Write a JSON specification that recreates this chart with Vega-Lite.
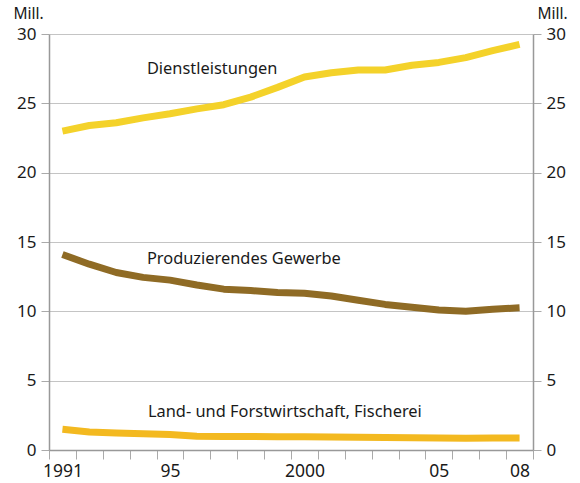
{
  "$schema": "https://vega.github.io/schema/vega-lite/v6.json",
  "width": 484,
  "height": 416,
  "autosize": "none",
  "padding": {"left": 49, "right": 47, "top": 34, "bottom": 33},
  "background": "white",
  "config": {
    "view": {"stroke": null},
    "font": "Noto Sans",
    "axis": {"labelFont": "Noto Sans", "titleFont": "Noto Sans", "labelColor": "#1a1a1a", "titleColor": "#1a1a1a", "labelOverlap": false, "labelSeparation": 0}
  },
  "datasets": {
    "lines": [
      {"series": "Dienstleistungen", "year": 1991, "value": 23.0},
      {"series": "Dienstleistungen", "year": 1992, "value": 23.4},
      {"series": "Dienstleistungen", "year": 1993, "value": 23.6},
      {"series": "Dienstleistungen", "year": 1994, "value": 23.95},
      {"series": "Dienstleistungen", "year": 1995, "value": 24.25},
      {"series": "Dienstleistungen", "year": 1996, "value": 24.6},
      {"series": "Dienstleistungen", "year": 1997, "value": 24.9},
      {"series": "Dienstleistungen", "year": 1998, "value": 25.45},
      {"series": "Dienstleistungen", "year": 1999, "value": 26.15},
      {"series": "Dienstleistungen", "year": 2000, "value": 26.9},
      {"series": "Dienstleistungen", "year": 2001, "value": 27.2},
      {"series": "Dienstleistungen", "year": 2002, "value": 27.4},
      {"series": "Dienstleistungen", "year": 2003, "value": 27.4},
      {"series": "Dienstleistungen", "year": 2004, "value": 27.75},
      {"series": "Dienstleistungen", "year": 2005, "value": 27.95},
      {"series": "Dienstleistungen", "year": 2006, "value": 28.3},
      {"series": "Dienstleistungen", "year": 2007, "value": 28.8},
      {"series": "Dienstleistungen", "year": 2008, "value": 29.25},
      {"series": "Produzierendes Gewerbe", "year": 1991, "value": 14.1},
      {"series": "Produzierendes Gewerbe", "year": 1992, "value": 13.4},
      {"series": "Produzierendes Gewerbe", "year": 1993, "value": 12.8},
      {"series": "Produzierendes Gewerbe", "year": 1994, "value": 12.45},
      {"series": "Produzierendes Gewerbe", "year": 1995, "value": 12.25},
      {"series": "Produzierendes Gewerbe", "year": 1996, "value": 11.9},
      {"series": "Produzierendes Gewerbe", "year": 1997, "value": 11.6},
      {"series": "Produzierendes Gewerbe", "year": 1998, "value": 11.5},
      {"series": "Produzierendes Gewerbe", "year": 1999, "value": 11.35},
      {"series": "Produzierendes Gewerbe", "year": 2000, "value": 11.3},
      {"series": "Produzierendes Gewerbe", "year": 2001, "value": 11.1},
      {"series": "Produzierendes Gewerbe", "year": 2002, "value": 10.8},
      {"series": "Produzierendes Gewerbe", "year": 2003, "value": 10.5},
      {"series": "Produzierendes Gewerbe", "year": 2004, "value": 10.3},
      {"series": "Produzierendes Gewerbe", "year": 2005, "value": 10.1},
      {"series": "Produzierendes Gewerbe", "year": 2006, "value": 10.0},
      {"series": "Produzierendes Gewerbe", "year": 2007, "value": 10.15},
      {"series": "Produzierendes Gewerbe", "year": 2008, "value": 10.25},
      {"series": "Land- und Forstwirtschaft, Fischerei", "year": 1991, "value": 1.5},
      {"series": "Land- und Forstwirtschaft, Fischerei", "year": 1992, "value": 1.3},
      {"series": "Land- und Forstwirtschaft, Fischerei", "year": 1993, "value": 1.22},
      {"series": "Land- und Forstwirtschaft, Fischerei", "year": 1994, "value": 1.17},
      {"series": "Land- und Forstwirtschaft, Fischerei", "year": 1995, "value": 1.12},
      {"series": "Land- und Forstwirtschaft, Fischerei", "year": 1996, "value": 1.0},
      {"series": "Land- und Forstwirtschaft, Fischerei", "year": 1997, "value": 0.98},
      {"series": "Land- und Forstwirtschaft, Fischerei", "year": 1998, "value": 0.97},
      {"series": "Land- und Forstwirtschaft, Fischerei", "year": 1999, "value": 0.96},
      {"series": "Land- und Forstwirtschaft, Fischerei", "year": 2000, "value": 0.95},
      {"series": "Land- und Forstwirtschaft, Fischerei", "year": 2001, "value": 0.94},
      {"series": "Land- und Forstwirtschaft, Fischerei", "year": 2002, "value": 0.92},
      {"series": "Land- und Forstwirtschaft, Fischerei", "year": 2003, "value": 0.9},
      {"series": "Land- und Forstwirtschaft, Fischerei", "year": 2004, "value": 0.89},
      {"series": "Land- und Forstwirtschaft, Fischerei", "year": 2005, "value": 0.87},
      {"series": "Land- und Forstwirtschaft, Fischerei", "year": 2006, "value": 0.85},
      {"series": "Land- und Forstwirtschaft, Fischerei", "year": 2007, "value": 0.86},
      {"series": "Land- und Forstwirtschaft, Fischerei", "year": 2008, "value": 0.86}
    ],
    "labels": [
      {"label": "Dienstleistungen", "year": 1994.14, "value": 27.5},
      {"label": "Produzierendes Gewerbe", "year": 1994.14, "value": 13.77},
      {"label": "Land- und Forstwirtschaft, Fischerei", "year": 1994.18, "value": 2.74}
    ]
  },
  "layer": [
    {
      "data": {"name": "lines"},
      "mark": {"type": "line", "strokeWidth": 7, "strokeCap": "butt", "strokeJoin": "round", "clip": false},
      "encoding": {
        "x": {
          "field": "year", "type": "quantitative",
          "scale": {"domain": [1990.5, 2008.5], "nice": false, "zero": false},
          "axis": {
            "title": null,
            "values": [1990.5, 1991.5, 1992.5, 1993.5, 1994.5, 1995.5, 1996.5, 1997.5, 1998.5, 1999.5, 2000.5, 2001.5, 2002.5, 2003.5, 2004.5, 2005.5, 2006.5, 2007.5, 2008.5],
            "labelExpr": "datum.value==1990.5?'1991':datum.value==1994.5?'95':datum.value==1999.5?'2000':datum.value==2004.5?'05':datum.value==2007.5?'08':''",
            "labelOffset": 13.4,
            "labelFontSize": 17.5,
            "labelPadding": 3,
            "labelFlush": false,
            "labelOverlap": false,
            "labelSeparation": 0,
            "tickSize": 9,
            "tickColor": "#aaaaaa",
            "domainColor": "#999999",
            "domainWidth": 1.5,
            "grid": false
          }
        },
        "y": {
          "field": "value", "type": "quantitative",
          "scale": {"domain": [0, 30], "nice": false},
          "axis": {
            "orient": "left",
            "values": [0, 5, 10, 15, 20, 25, 30],
            "title": "Mill.",
            "titleAngle": 0,
            "titleAlign": "left",
            "titleBaseline": "middle",
            "titleX": -36,
            "titleY": -21,
            "titleFontSize": 15.5,
            "titleFontWeight": "normal",
            "labelFontSize": 17,
            "labelPadding": 5,
            "tickSize": 8,
            "tickColor": "#aaaaaa",
            "domainColor": "#999999",
            "domainWidth": 1.5,
            "grid": true,
            "gridColor": "#c4c4c4",
            "gridWidth": 1.2
          }
        },
        "color": {
          "field": "series", "type": "nominal", "legend": null,
          "scale": {
            "domain": ["Dienstleistungen", "Produzierendes Gewerbe", "Land- und Forstwirtschaft, Fischerei"],
            "range": ["#f4d22a", "#8f6b25", "#f3b920"]
          }
        }
      }
    },
    {
      "data": {"name": "labels"},
      "mark": {"type": "text", "align": "left", "baseline": "middle", "fontSize": 16.4, "color": "#1a1a1a", "font": "Noto Sans"},
      "encoding": {
        "x": {
          "field": "year", "type": "quantitative",
          "scale": {"domain": [1990.5, 2008.5], "nice": false, "zero": false},
          "axis": {
            "title": null,
            "values": [1990.5, 1991.5, 1992.5, 1993.5, 1994.5, 1995.5, 1996.5, 1997.5, 1998.5, 1999.5, 2000.5, 2001.5, 2002.5, 2003.5, 2004.5, 2005.5, 2006.5, 2007.5, 2008.5],
            "labelExpr": "datum.value==1990.5?'1991':datum.value==1994.5?'95':datum.value==1999.5?'2000':datum.value==2004.5?'05':datum.value==2007.5?'08':''",
            "labelOffset": 13.4,
            "labelFontSize": 17.5,
            "labelPadding": 3,
            "labelFlush": false,
            "labelOverlap": false,
            "labelSeparation": 0,
            "tickSize": 9,
            "tickColor": "#aaaaaa",
            "domainColor": "#999999",
            "domainWidth": 1.5,
            "grid": false
          }
        },
        "y": {
          "field": "value", "type": "quantitative",
          "scale": {"domain": [0, 30], "nice": false},
          "axis": {
            "orient": "right",
            "values": [0, 5, 10, 15, 20, 25, 30],
            "title": "Mill.",
            "titleAngle": 0,
            "titleAlign": "left",
            "titleBaseline": "middle",
            "titleX": 4,
            "titleY": -21,
            "titleFontSize": 15.5,
            "titleFontWeight": "normal",
            "labelFontSize": 17,
            "labelPadding": 5,
            "tickSize": 8,
            "tickColor": "#aaaaaa",
            "domainColor": "#999999",
            "domainWidth": 1.5,
            "grid": false
          }
        },
        "text": {"field": "label"}
      }
    }
  ],
  "resolve": {"scale": {"y": "independent"}}
}
